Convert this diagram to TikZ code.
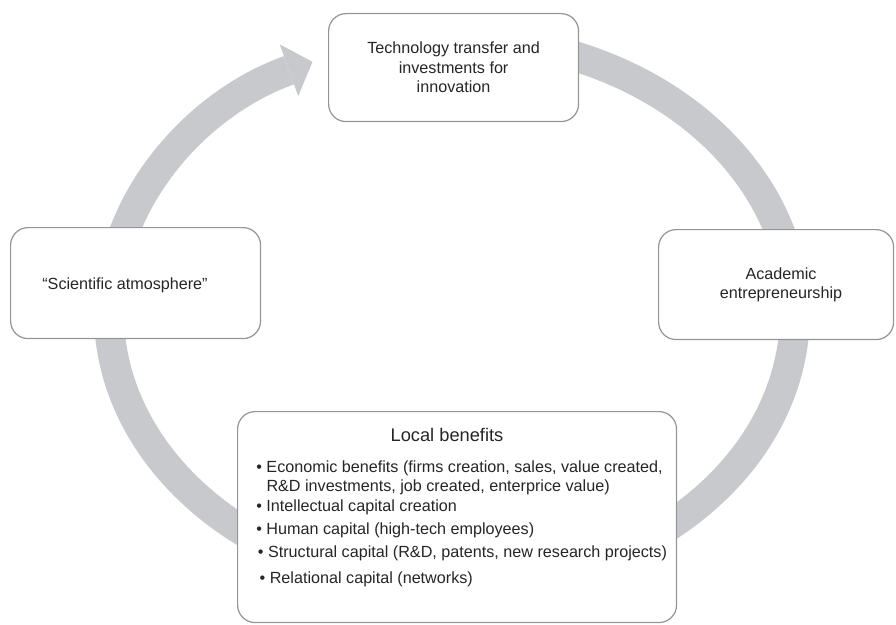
\documentclass[tikz,border=0pt]{standalone}
\usepackage{fontspec}
\setmainfont{Liberation Sans}
\usetikzlibrary{arrows.meta}
\definecolor{ringgray}{RGB}{200,201,204}
\definecolor{framegray}{RGB}{150,150,150}

\begin{document}
\begin{tikzpicture}[x=0.02cm, y=0.02cm,
  frame/.style={draw=framegray, line width=0.7pt, fill=white, rounded corners=0.35cm,
    anchor=north west, inner sep=0pt, align=center},
  ring/.style={draw=ringgray, line width=0.6cm,
    -{Triangle[width=1.1cm, length=0.5cm, line width=0pt]}},
  txt/.style={font=\fontsize{9.2}{11.1}\selectfont, text=black!85, inner sep=0pt, align=center}]
  \useasboundingbox (0,0) rectangle (896,-625);
  % the cycle, drawn first so that the boxes sit on it
  \coordinate (hub) at (452,-313);
  \draw[ring] (hub) ++(80:6.86cm and 5.5cm)
    arc[start angle=80, end angle=-246, x radius=6.86cm, y radius=5.5cm];
  % boxes
  \node[frame, txt, anchor=north west, minimum width=5cm, minimum height=2.16cm] (tech) at (328,-13)
    {Technology transfer and\\ investments for\\ innovation};
  \node[frame, minimum width=5cm, minimum height=2.22cm] (atmos) at (10,-227) {};
  \node[frame, minimum width=4.7cm, minimum height=2.2cm] (acad) at (658,-229) {};
  \node[frame, minimum width=8.78cm, minimum height=4.22cm] (local) at (237,-411) {};
  % texts
  \node[txt, anchor=west] (atmostext) at (42,-285) {“Scientific atmosphere”};
  \node[txt] (acadtext) at (781,-285) {Academic\\ entrepreneurship};
  \node[txt, font=\fontsize{10.4}{12}\selectfont] (localtitle) at (447,-435) {Local benefits};
  \node[txt, anchor=north west, align=left] (locallist) at (256,-460)
    {\textbullet\ Economic benefits (firms creation, sales, value created,\\
     \hphantom{\textbullet\ }R\&D investments, job created, enterprice value)\\
     \textbullet\ Intellectual capital creation\\[2pt]
     \textbullet\ Human capital (high-tech employees)\\[2.5pt]
     \kern0.9pt\textbullet\ Structural capital (R\&D, patents, new research projects)\\[3.5pt]
     \kern1.9pt\textbullet\ Relational capital (networks)};
\end{tikzpicture}
\end{document}
